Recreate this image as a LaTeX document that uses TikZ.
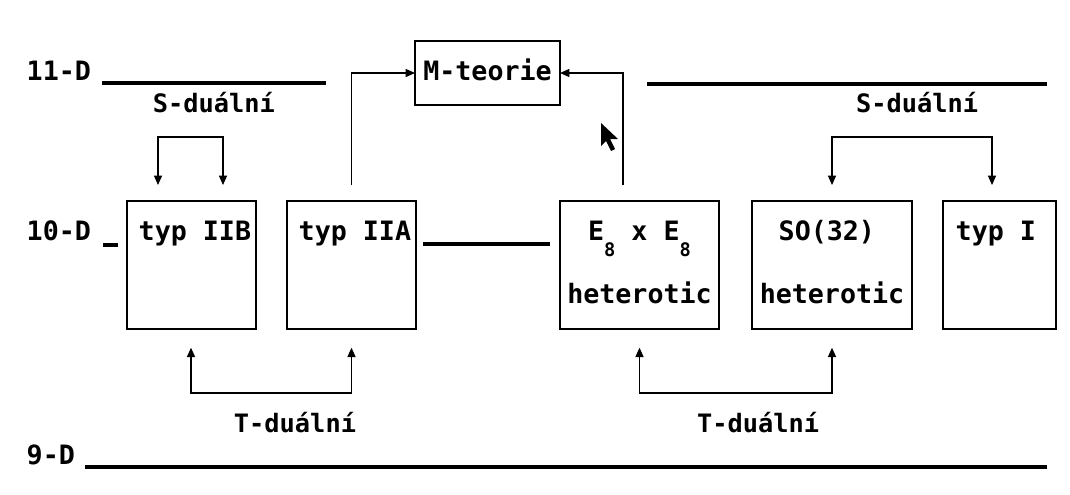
\documentclass[tikz,border=0pt]{standalone}
\usepackage{fontspec}
\setmonofont{DejaVu Sans Mono}
\usetikzlibrary{positioning}
\usetikzlibrary{calc}
\usetikzlibrary{arrows.meta}

\newcommand{\lowidx}[1]{\raisebox{-12pt}{\fontsize{14}{14}\selectfont #1}}

\begin{document}
\begin{tikzpicture}[
	x=0.75pt, y=-0.75pt,
	box/.style={draw, line width=1.3pt, minimum height=96pt, inner sep=0pt, outer sep=0pt},
	arrow/.style={-{Triangle[length=7pt,width=6pt]}, line width=1pt},
	dual/.style={{Triangle[length=7pt,width=6pt]}-{Triangle[length=7pt,width=6pt]}, line width=1pt, shorten <=12pt, shorten >=12pt},
	level/.style={line width=2.6pt},
	every node/.style={font=\ttfamily\bfseries\fontsize{20}{20}\selectfont},
	duallbl/.style={font=\ttfamily\bfseries\fontsize{19}{19}\selectfont, anchor=base},
]

\fill[white] (0,0) rectangle (1070,494);
\useasboundingbox (0,0) rectangle (1070,494);

% Boxes
\node[box, minimum width=96.75pt] (IIB) at (191.5,265) {};
\node[box, minimum width=96.75pt, right=23.25pt of IIB] (IIA) {};
\node[box, minimum width=119.25pt, right=108pt of IIA] (E8) {};
\node[box, minimum width=120pt, right=24.75pt of E8] (SO) {};
\node[box, minimum width=84.75pt, right=23.25pt of SO] (typI) {};
\node[box, minimum width=108.75pt, minimum height=48pt] (M) at (487.5,73) {};

% Texts in boxes
\node[anchor=base] (Mt) at ($(M.north)+(0,39)$) {M-teorie};
\node[anchor=base west] (IIBt) at ($(IIB.north west)+(7,39)$) {typ IIB};
\node[anchor=base west] (IIAt) at ($(IIA.north west)+(7,39)$) {typ IIA};
\node[anchor=base] (E8t) at ($(E8.north)+(0,39)$) {E\lowidx{8} x E\lowidx{8}};
\node[anchor=base] (E8h) at ($(E8.north)+(0,102)$) {heterotic};
\node[anchor=base west] (SOt) at ($(SO.north west)+(22,39)$) {SO(32)};
\node[anchor=base] (SOh) at ($(SO.north)+(0,102)$) {heterotic};
\node[anchor=base west] (typIt) at ($(typI.north west)+(8,39)$) {typ I};

% Dimension labels
\node[anchor=base west] (d11) at (22,80) {11-D};
\node[anchor=base west] (d10) at (22,240) {10-D};
\node[anchor=base west] (d9) at (22,464) {9-D};

% Duality labels
\node[duallbl] (sl) at (214,112) {S-duální};
\node[duallbl] (sr) at (917,112) {S-duální};
\node[duallbl] (tl) at (295,432) {T-duální};
\node[duallbl] (tr) at (758,432) {T-duální};

% Level lines
\draw[level] (102,83) -- (326,83);
\draw[level] (647,84) -- (1047,84);
\draw[level] (103,245) -- (118,245);
\draw[level] (423,244) -- (550,244);
\draw[level] (85,467) -- (1047,467);

% S dualities
\draw[dual] ($(IIB.north)+(-33.5,0)$) -- ++(0,-64) -| ($(IIB.north)+(31.5,0)$);
\draw[dual] (SO.north) -- ++(0,-64) -| ($(typI.north)+(-7.5,0)$);

% T dualities
\draw[dual, shorten <=14pt, shorten >=14pt] ($(IIB.south)+(-0.5,0)$) -- ++(0,64) -| (IIA.south);
\draw[dual, shorten <=14pt, shorten >=14pt] (E8.south) -- ++(0,64) -| (SO.south);

% To M-theory
\draw[arrow, shorten <=12pt] (IIA.north) |- (M.west);
\draw[arrow, shorten <=12pt] ($(E8.north)+(-16.5,0)$) |- (M.east);

% Mouse pointer
\fill (601,123) -- (601,146) -- (606,141) -- (611,151) -- (615,149) -- (610,139) -- (618,139) -- cycle;
\end{tikzpicture}
\end{document}
